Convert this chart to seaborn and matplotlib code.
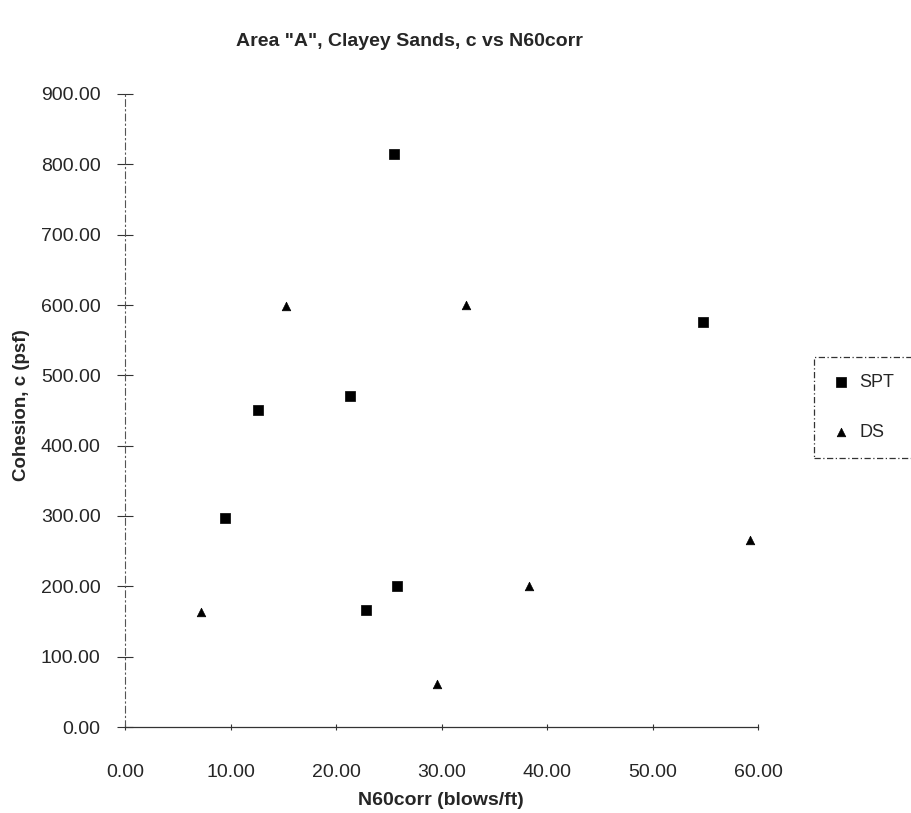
import matplotlib
matplotlib.use("Agg")
import matplotlib.pyplot as plt
import seaborn as sns
import pandas as pd
from matplotlib.patches import Rectangle

spt_x = [9.5, 12.6, 21.3, 25.5, 25.8, 22.8, 54.8]
spt_y = [297, 450, 470, 815, 200, 167, 576]
ds_x = [7.2, 15.3, 32.3, 29.6, 38.3, 59.2]
ds_y = [164, 598, 600, 61, 200, 266]
x_ticks = [0, 10, 20, 30, 40, 50, 60]
y_ticks = [0, 100, 200, 300, 400, 500, 600, 700, 800, 900]

sns.set_style("white")
plt.rcParams["font.family"] = ["Liberation Sans", "DejaVu Sans"]

df = pd.DataFrame({
    "N60corr": spt_x + ds_x,
    "c": spt_y + ds_y,
    "Series": ["SPT"] * len(spt_x) + ["DS"] * len(ds_x),
})

W, H = 911, 813
fig = plt.figure(figsize=(W / 100, H / 100), dpi=100)
ax = fig.add_axes([125 / W, 1 - 727 / H, (758 - 125) / W, (727 - 94) / H])

sns.scatterplot(data=df[df.Series == "SPT"], x="N60corr", y="c", marker="s",
                color="black", s=55, edgecolor="black", linewidth=0.5, ax=ax,
                label="SPT")
sns.scatterplot(data=df[df.Series == "DS"], x="N60corr", y="c", marker="^",
                color="black", s=38, edgecolor="black", linewidth=0.5, ax=ax,
                label="DS")

ax.set_xlim(0, 60)
ax.set_ylim(0, 900)
ax.set_xticks(x_ticks)
ax.set_yticks(y_ticks)
ax.set_xticklabels([f"{v:.2f}" for v in x_ticks], fontsize=14)
ax.set_yticklabels([f"{v:.2f}" for v in y_ticks], fontsize=14)
ax.tick_params(axis="y", left=True, direction="inout", length=11, width=0.8,
               pad=12, color="#333333")
ax.tick_params(axis="x", bottom=True, direction="inout", length=5, width=0.8,
               pad=24, color="#333333")

for s in ["top", "right"]:
    ax.spines[s].set_visible(False)
ax.spines["left"].set_color("#555555")
ax.spines["left"].set_linewidth(0.8)
ax.spines["left"].set_linestyle((0, (6, 3, 1, 3)))
ax.spines["bottom"].set_color("#333333")
ax.spines["bottom"].set_linewidth(0.9)

ax.set_xlabel("")
ax.set_ylabel("")
fig.text(441 / W, 1 - 800 / H, "N60corr (blows/ft)", ha="center", va="center",
         fontsize=14, fontweight="bold")
fig.text(22 / W, 1 - 405 / H, "Cohesion, c (psf)", ha="center", va="center",
         rotation=90, fontsize=13.5, fontweight="bold")
fig.text(409 / W, 1 - 41 / H, 'Area "A", Clayey Sands, c vs N60corr', ha="center",
         va="center", fontsize=14, fontweight="bold")

# legend box
fig.patches.append(Rectangle((814 / W, 1 - 458 / H), 120 / W, 101 / H,
                             transform=fig.transFigure, fill=False,
                             edgecolor="#333333", linewidth=0.9,
                             linestyle=(0, (5, 2, 1, 2))))
if ax.get_legend():
    ax.get_legend().remove()
handles, labels = ax.get_legend_handles_labels()
leg = fig.legend(handles, labels, loc="upper left",
                 bbox_to_anchor=(834 / W, 1 - 374 / H), frameon=False,
                 fontsize=13, labelspacing=1.8, handletextpad=0.6,
                 handlelength=0.8, borderpad=0, borderaxespad=0)

fig.savefig("out.png", dpi=100)
